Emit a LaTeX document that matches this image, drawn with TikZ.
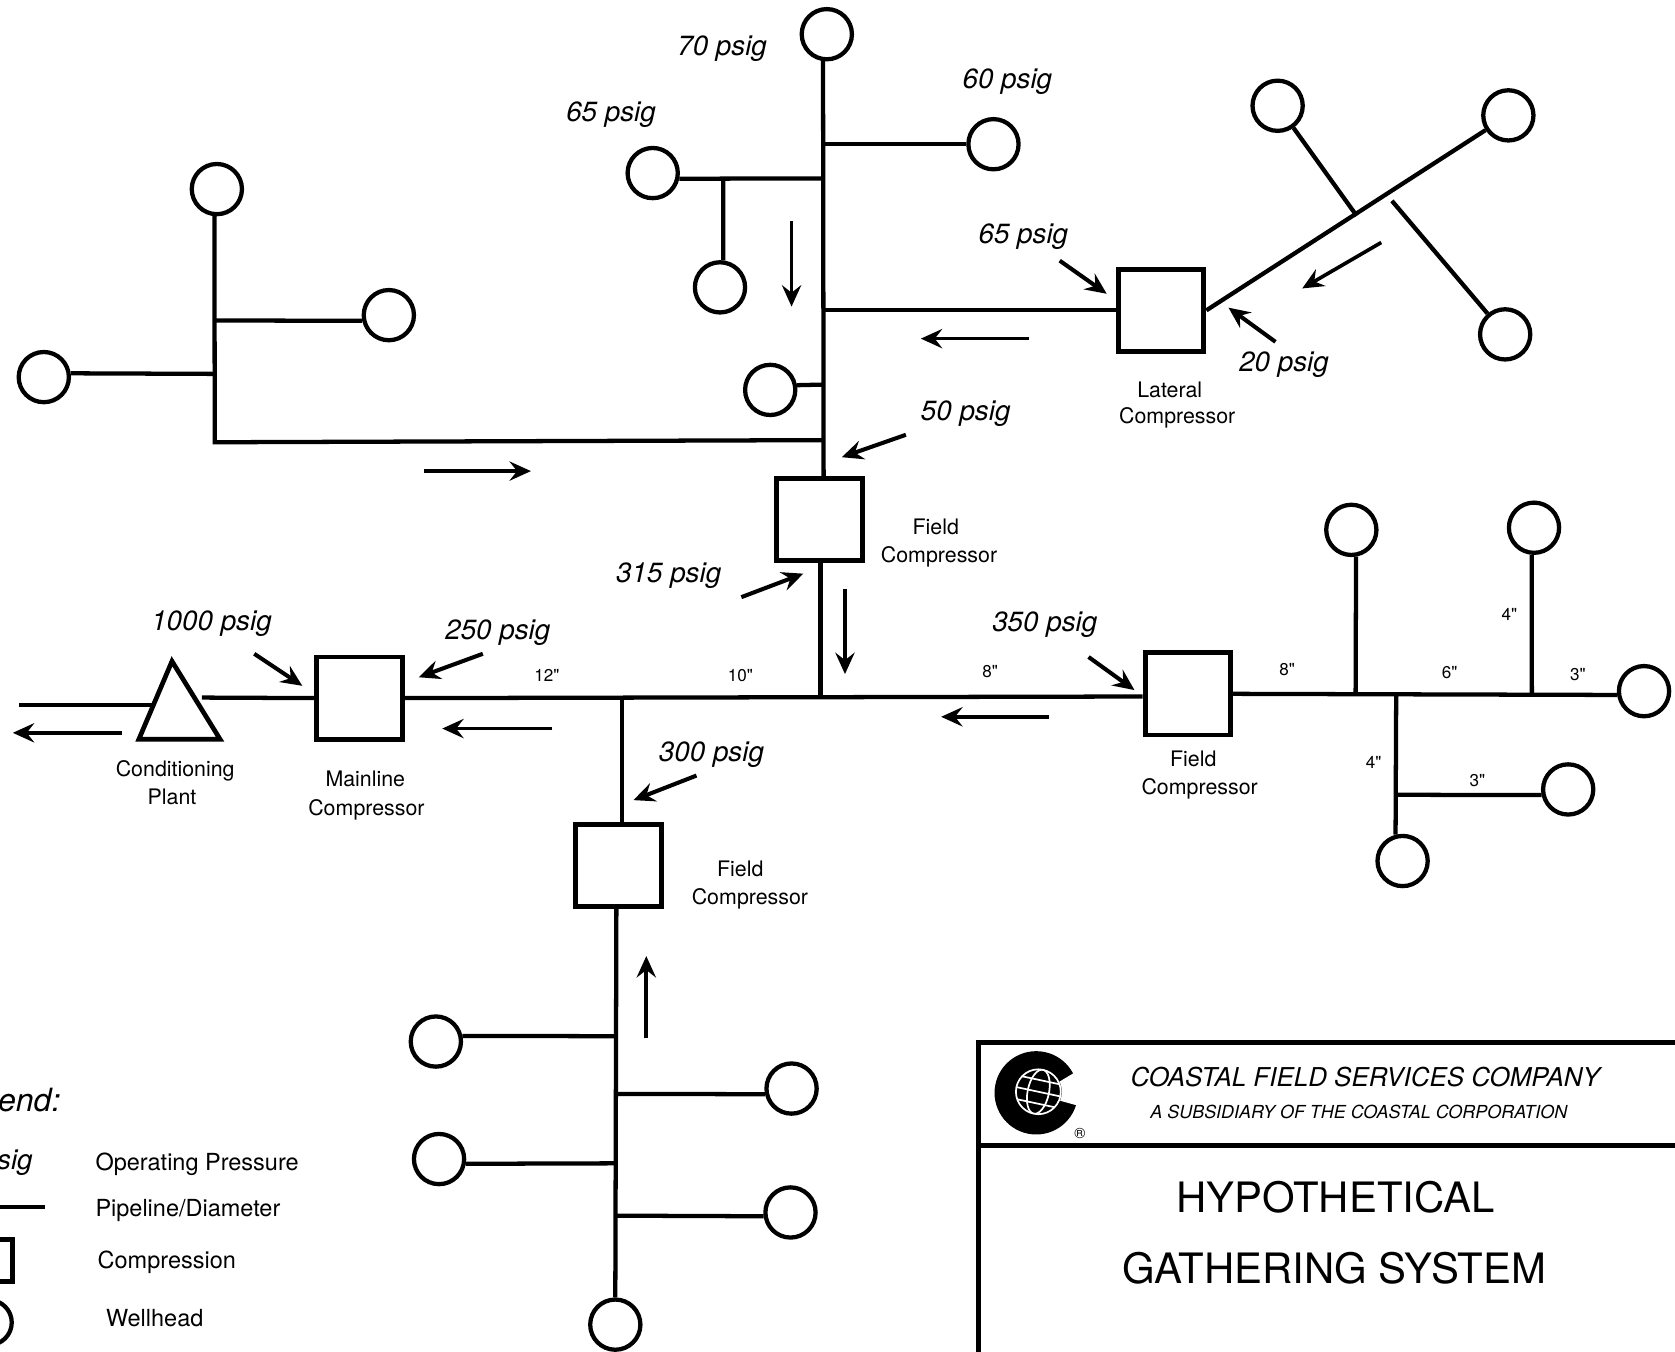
\documentclass[tikz,border=0pt]{standalone}
\usepackage{fontspec}
\setmainfont{TeX Gyre Heros}
\newfontfamily\diafont{TeX Gyre Heros}
\usetikzlibrary{arrows.meta}
\tikzset{
  pipe/.style={line width=2pt},
  well/.style={circle,draw,line width=2pt,minimum size=23.5pt,inner sep=0pt,fill=white},
  comp/.style={rectangle,draw,line width=2.3pt,minimum width=40pt,minimum height=38.5pt,inner sep=0pt,fill=white},
  flow/.style={line width=1.7pt,-{Stealth[length=10pt,width=9pt,inset=3.5pt]}},
  press/.style={line width=1.9pt,-{Stealth[length=10pt,width=9pt,inset=3.5pt]}},
  psig/.style={font=\fontsize{13}{15}\selectfont\itshape,inner sep=0pt},
  lab/.style={font=\fontsize{10}{12}\selectfont,inner sep=0pt},
  leg/.style={font=\fontsize{11}{13}\selectfont,inner sep=0pt,anchor=west},
  dia/.style={font=\diafont\fontsize{8}{10}\selectfont,inner sep=0pt},
  frameline/.style={line width=2.2pt}
}
\begin{document}
\begin{tikzpicture}[x=0.5pt,y=-0.5pt]
\useasboundingbox (0,0) rectangle (1568,1265);
\clip (0,0) rectangle (1568,1265);
\fill[white] (0,0) rectangle (1568,1265);

% wells
\node[well] (w1) at (774,32) {};
\node[well] (w2) at (930,135) {};
\node[well] (w3) at (611,162) {};
\node[well] (w4) at (674,269) {};
\node[well] (w5) at (721,365) {};
\node[well] (w6) at (203,177) {};
\node[well] (w7) at (364,295) {};
\node[well] (w8) at (41,353) {};
\node[well] (w9) at (1412,108) {};
\node[well] (w10) at (1196,99) {};
\node[well] (w11) at (1409,313) {};
\node[well] (w12) at (1539,647) {};
\node[well] (w13) at (1265,496) {};
\node[well] (w14) at (1436,494) {};
\node[well] (w15) at (1313,806) {};
\node[well] (w16) at (1468,739) {};
\node[well] (w17) at (576,1240) {};
\node[well] (w18) at (408,975) {};
\node[well] (w19) at (741,1019) {};
\node[well] (w20) at (411,1085) {};
\node[well] (w21) at (740,1135) {};

% compressors
\node[comp] (clat) at (1087,290.5) {};
\node[comp] (cf1) at (767,486.5) {};
\node[comp] (cmain) at (336.5,653.5) {};
\node[comp] (cf2) at (1112,649.5) {};
\node[comp] (cf3) at (579,810) {};

% plant
\coordinate (ta) at (161,619);
\coordinate (tb) at (130,692);
\coordinate (tc) at (206,692);
\draw[line width=2.2pt,line join=miter] (ta) -- (tb) -- (tc) -- cycle;
\coordinate (tr) at (189,653);
\coordinate (tl) at (144,660);
\coordinate (outl) at (18,660);

% junctions
\coordinate (n135) at (771,135);
\coordinate (n167) at (771,167);
\coordinate (n290) at (771,290);
\coordinate (n360) at (771,360);
\coordinate (n412) at (771,412);
\coordinate (j677) at (677,167);
\coordinate (lc) at (201,414);
\coordinate (l300) at (201,300);
\coordinate (l350) at (201,350);
\coordinate (m768) at (768,652);
\coordinate (m582) at (582,653);
\coordinate (e1269) at (1269,650);
\coordinate (e1307) at (1307,650);
\coordinate (e1434) at (1434,650);
\coordinate (b744) at (1307,744);
\coordinate (s970) at (577,970);
\coordinate (s1024) at (577,1024);
\coordinate (s1089) at (577,1089);
\coordinate (s1138) at (577,1138);
\coordinate (x1270) at (1270,202);
\coordinate (x1303) at (1303,188);

% pipes
\draw[pipe] (w1.-98) -- (771,447);
\draw[pipe] (n135) -- (w2.west);
\draw[pipe] (n167) -- (w3.-12);
\draw[pipe] (j677) -- (w4.83);
\draw[pipe] (n360) -- (w5.10);
\draw[pipe] (w6.-95) -- (lc) -- (n412);
\draw[pipe] (l300) -- (w7.-168);
\draw[pipe] (l350) -- (w8.8);
\draw[pipe] (n290) -- (clat.west |- n290);
\draw[pipe] (clat.east) -- (w9);
\draw[pipe] (x1270) -- (w10);
\draw[pipe] (x1303) -- (w11);
\draw[pipe] (cf1.south -| m768) -- (m768);
\draw[pipe] (cmain.east) -- (cf2.west |- m768);
\draw[pipe] (tr) -- (cmain.west);
\draw[pipe] (outl) -- (tl);
\draw[pipe] (cf2.east) -- (w12.-172);
\draw[pipe] (e1269) -- (w13.-80);
\draw[pipe] (e1434) -- (w14.-95);
\draw[pipe] (e1307) -- (w15.105);
\draw[pipe] (b744) -- (w16.-168);
\draw[pipe] (m582) -- (cf3.north -| m582);
\draw[pipe] (cf3.south -| s970) -- (w17.90);
\draw[pipe] (s970) -- (w18.12);
\draw[pipe] (s1024) -- (w19.-168);
\draw[pipe] (s1089) -- (w20.-10);
\draw[pipe] (s1138) -- (w21.-172);

% flow arrows
\coordinate (f1a) at (741,207); \coordinate (f1b) at (741,287);
\coordinate (f2a) at (963,317); \coordinate (f2b) at (862,317);
\coordinate (f3a) at (1293,227); \coordinate (f3b) at (1219,270);
\coordinate (f4a) at (397,441); \coordinate (f4b) at (497,441);
\coordinate (f5a) at (791,551); \coordinate (f5b) at (791,631);
\coordinate (f6a) at (982,671); \coordinate (f6b) at (881,671);
\coordinate (f7a) at (517,682); \coordinate (f7b) at (414,682);
\coordinate (f8a) at (114,686); \coordinate (f8b) at (12,686);
\coordinate (f9a) at (605,972); \coordinate (f9b) at (605,895);
\foreach \i in {1,...,9} \draw[flow] (f\i a) -- (f\i b);

% pressure arrows
\coordinate (p1a) at (992,244); \coordinate (p1b) at (1036,275);
\coordinate (p2a) at (1194,320); \coordinate (p2b) at (1150,288);
\coordinate (p3a) at (848,407); \coordinate (p3b) at (788,428);
\coordinate (p4a) at (694,559); \coordinate (p4b) at (752,537);
\coordinate (p5a) at (1019,615); \coordinate (p5b) at (1062,646);
\coordinate (p6a) at (452,612); \coordinate (p6b) at (392,634);
\coordinate (p7a) at (238,612); \coordinate (p7b) at (283,642);
\coordinate (p8a) at (652,726); \coordinate (p8b) at (593,749);
\foreach \i in {1,...,8} \draw[press] (p\i a) -- (p\i b);

% pressure labels
\node[psig] (t70) at (676,46) {70 psig};
\node[psig] (t60) at (943,76) {60 psig};
\node[psig] (t65a) at (572,107) {65 psig};
\node[psig] (t65b) at (958,222) {65 psig};
\node[psig] (t20) at (1202,341) {20 psig};
\node[psig] (t50) at (904,387) {50 psig};
\node[psig] (t315) at (626,539) {315 psig};
\node[psig] (t350) at (978,585) {350 psig};
\node[psig] (t1000) at (198,584) {1000 psig};
\node[psig] (t250) at (466,592) {250 psig};
\node[psig] (t300) at (666,706) {300 psig};

% equipment labels
\node[lab] (tl1) at (1095,365) {Lateral};
\node[lab] (tl2) at (1102,391) {Compressor};
\node[lab] (tf1) at (876,493) {Field};
\node[lab] (tf2) at (879,521) {Compressor};
\node[lab] (tc1) at (164,722) {Conditioning};
\node[lab] (tc2) at (161,746) {Plant};
\node[lab] (tm1) at (342,729) {Mainline};
\node[lab] (tm2) at (343,758) {Compressor};
\node[lab] (tg1) at (1117,710) {Field};
\node[lab] (tg2) at (1123,738) {Compressor};
\node[lab] (th1) at (693,813) {Field};
\node[lab] (th2) at (702,841) {Compressor};

% diameters
\node[dia] (d1) at (512,632) {12"};
\node[dia] (d2) at (693,632) {10"};
\node[dia] (d3) at (927,629) {8"};
\node[dia] (d4) at (1205,627) {8"};
\node[dia] (d5) at (1357,630) {6"};
\node[dia] (d6) at (1477,631) {3"};
\node[dia] (d7) at (1413,575) {4"};
\node[dia] (d8) at (1286,714) {4"};
\node[dia] (d9) at (1383,731) {3"};

% legend
\node[font=\fontsize{15}{17}\selectfont\itshape,inner sep=0pt,anchor=east] (lg) at (57,1030) {end:};
\node[font=\fontsize{13}{15}\selectfont\itshape,inner sep=0pt,anchor=east] (lp) at (31,1088) {sig};
\node[leg] (lg1) at (89,1090) {Operating Pressure};
\node[leg] (lg2) at (89,1133) {Pipeline/Diameter};
\node[leg] (lg3) at (91,1182) {Compression};
\node[leg] (lg4) at (99,1234) {Wellhead};
\coordinate (lpa) at (-10,1130); \coordinate (lpb) at (42,1130);
\draw[pipe] (lpa) -- (lpb);
\node[comp,minimum width=20pt,minimum height=20pt] (lcomp) at (-8,1180) {};
\node[well,minimum size=21pt] (lwell) at (-10,1238) {};

% title block
\coordinate (fa) at (1580,976); \coordinate (fb) at (916,976); \coordinate (fc) at (916,1280);
\coordinate (fd) at (916,1072); \coordinate (fe) at (1580,1072);
\draw[frameline] (fa) -- (fb) -- (fc);
\draw[frameline] (fd) -- (fe);
\node[font=\fontsize{12.15}{14}\selectfont\itshape,inner sep=0pt] (tt1) at (1278,1008) {COASTAL FIELD SERVICES COMPANY};
\node[font=\fontsize{8.4}{10}\selectfont\itshape,inner sep=0pt] (tt2) at (1272,1041) {A SUBSIDIARY OF THE COASTAL CORPORATION};
\node[font=\fontsize{19.6}{22}\selectfont,inner sep=0pt] (tt3) at (1250,1121) {HYPOTHETICAL};
\node[font=\fontsize{19.6}{22}\selectfont,inner sep=0pt] (tt4) at (1249,1187) {GATHERING SYSTEM};

% logo
\fill[black] (970,1023) circle [radius=39];
\fill[white] (991,1013) -- (1011,1001) -- (1016,1001) -- (1016,1036) -- (1009,1035) -- (991,1030) -- cycle;
\fill[black] (972,1022) circle [radius=22];
\begin{scope}[white,line width=0.8pt]
  \draw (972,1022) circle [radius=21];
  \begin{scope}[rotate around={-12:(972,1022)}]
    \clip (972,1022) circle [radius=21];
    \draw (972,1022) ellipse [x radius=10,y radius=21];
    \draw (951,1022) -- (993,1022);
    \draw (953,1011) -- (991,1011);
    \draw (953,1033) -- (991,1033);
  \end{scope}
\end{scope}
\node[font=\fontsize{7}{8}\selectfont,inner sep=0pt] (reg) at (1011,1061) {®};
\end{tikzpicture}
\end{document}
